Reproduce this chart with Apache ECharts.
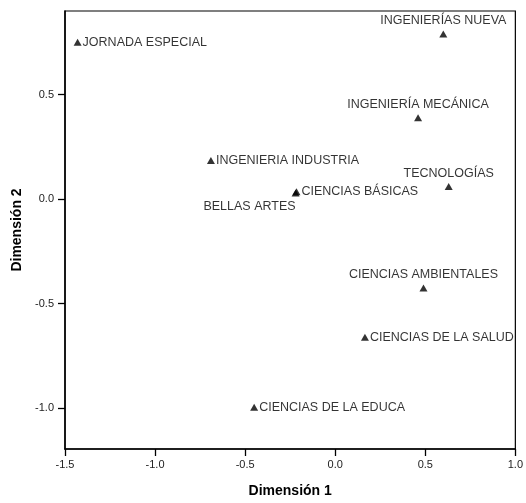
<!DOCTYPE html>
<html>
<head>
<meta charset="utf-8">
<script src="https://cdn.jsdelivr.net/npm/echarts@6/dist/echarts.min.js"></script>
<style>
html,body{margin:0;padding:0;background:#fff;}
#chart{width:526px;height:503px;}
</style>
</head>
<body>
<div id="chart"></div>
<script>
// Data
var names = ["JORNADA ESPECIAL","INGENIERÍAS NUEVA","INGENIERÍA MECÁNICA","INGENIERIA INDUSTRIA","TECNOLOGÍAS","CIENCIAS BÁSICAS","BELLAS ARTES","CIENCIAS AMBIENTALES","CIENCIAS DE LA SALUD","CIENCIAS DE LA EDUCA"];
var dim1 = [-1.43, 0.60, 0.46, -0.69, 0.63, -0.215, -0.22, 0.49, 0.165, -0.45];
var dim2 = [0.75, 0.79, 0.39, 0.185, 0.06, 0.036, 0.03, -0.425, -0.66, -0.995];
var xTicks = [-1.5, -1.0, -0.5, 0.0, 0.5, 1.0];
var yTicks = [-1.0, -0.5, 0.0, 0.5];

// Label placement (style only)
var labelStyle = {
  "JORNADA ESPECIAL": {position: "right", distance: 1},
  "INGENIERÍAS NUEVA": {position: "top", distance: 3},
  "INGENIERÍA MECÁNICA": {position: "top", distance: 3},
  "INGENIERIA INDUSTRIA": {position: "right", distance: 1},
  "TECNOLOGÍAS": {position: "top", distance: 3},
  "CIENCIAS BÁSICAS": {position: "right", distance: 1},
  "BELLAS ARTES": {position: "left", distance: 0, offset: [4, 14]},
  "CIENCIAS AMBIENTALES": {position: "top", distance: 3},
  "CIENCIAS DE LA SALUD": {position: "right", distance: 1},
  "CIENCIAS DE LA EDUCA": {position: "right", distance: 1}
};

var seriesData = names.map(function (n, i) {
  var ls = labelStyle[n];
  return {
    name: n,
    value: [dim1[i], dim2[i]],
    label: Object.assign({show: true, formatter: n}, ls)
  };
});

var font = "'Liberation Sans', Arial, sans-serif";
var chart = echarts.init(document.getElementById('chart'));
chart.setOption({
  animation: false,
  backgroundColor: '#fff',
  grid: {left: 65, right: 10, top: 11, bottom: 51, show: true, borderColor: '#000', borderWidth: 1.2, containLabel: false},
  xAxis: {
    type: 'value', min: -1.5, max: 1.0, interval: 0.5,
    name: 'Dimensión 1', nameLocation: 'middle', nameGap: 35,
    nameTextStyle: {fontFamily: font, fontWeight: 'bold', fontSize: 14, color: '#000'},
    axisLine: {show: true, onZero: false, lineStyle: {color: '#000', width: 1.5}},
    axisTick: {show: true, inside: false, length: 7, lineStyle: {color: '#000', width: 1.3}},
    axisLabel: {fontFamily: font, fontSize: 11, color: '#222', margin: 10, formatter: function (v) { return v.toFixed(1); }},
    splitLine: {show: false}
  },
  yAxis: {
    type: 'value', min: -1.195, max: 0.9,
    name: 'Dimensión 2', nameLocation: 'middle', nameGap: 36,
    nameTextStyle: {fontFamily: font, fontWeight: 'bold', fontSize: 14, color: '#000'},
    axisLine: {show: true, onZero: false, lineStyle: {color: '#000', width: 1.5}},
    axisTick: {show: true, inside: false, length: 7, customValues: yTicks, lineStyle: {color: '#000', width: 1.3}},
    axisLabel: {fontFamily: font, fontSize: 11, color: '#222', margin: 11, customValues: yTicks, formatter: function (v) { return v.toFixed(1); }},
    splitLine: {show: false}
  },
  series: [{
    type: 'scatter',
    symbol: 'triangle',
    symbolSize: [8, 7],
    itemStyle: {color: '#000'},
    label: {fontFamily: font, fontSize: 12.5, color: '#000'},
    data: seriesData
  }]
});
</script>
</body>
</html>
